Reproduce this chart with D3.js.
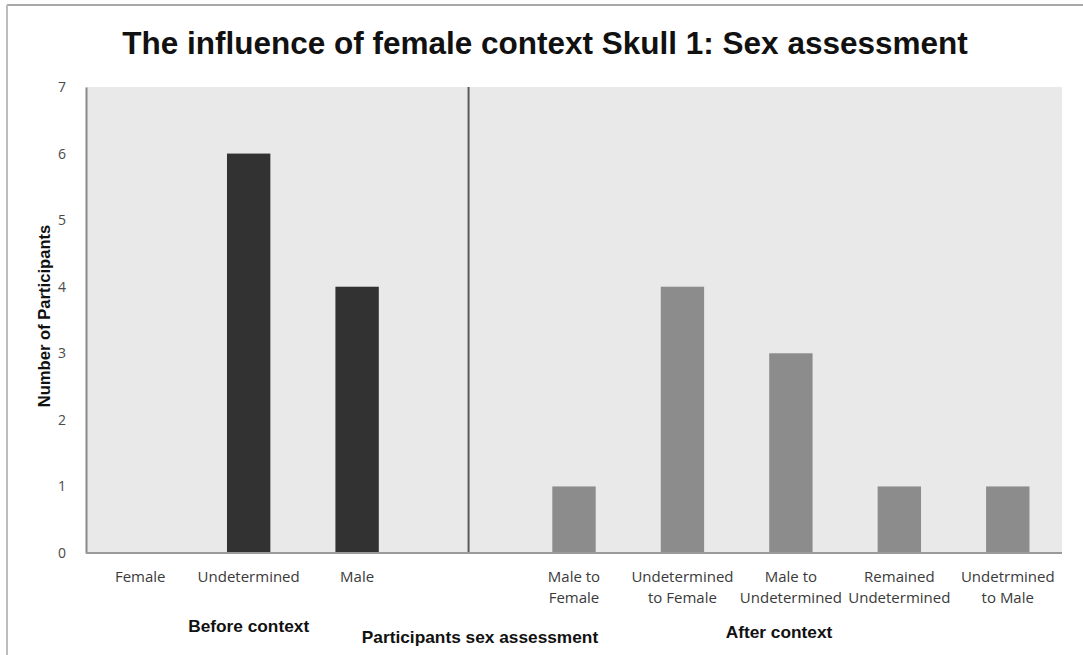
<!DOCTYPE html>
<html>
<head>
<meta charset="utf-8">
<script src="https://cdn.jsdelivr.net/npm/d3@7"></script>
<style>
  html, body { margin: 0; padding: 0; background: #ffffff; }
  svg { display: block; }
</style>
</head>
<body>
<svg id="chart" width="1083" height="655"></svg>
<script>
// Category slots along the x axis (an empty slot separates the two phases)
const categories = [
  "Female", "Undetermined", "Male", "",
  "Male to Female", "Undetermined to Female", "Male to Undetermined",
  "Remained Undetermined", "Undetrmined to Male"
];
// Two-line tick labels
const tickLines = [
  ["Female"], ["Undetermined"], ["Male"], [""],
  ["Male to", "Female"], ["Undetermined", "to Female"], ["Male to", "Undetermined"],
  ["Remained", "Undetermined"], ["Undetrmined", "to Male"]
];
// Number of participants before context
const beforeValues = [0, 6, 4, null, null, null, null, null, null];
// Number of participants after context
const afterValues = [null, null, null, null, 1, 4, 3, 1, 1];
const yTicks = [0, 1, 2, 3, 4, 5, 6, 7];
const dividerCategory = "";

const svg = d3.select("#chart");
const W = 1083, H = 655;
const plot = { left: 86, right: 1062, top: 87, bottom: 553 };

// Outer frame (top and left edges)
svg.append("line").attr("x1", 7).attr("x2", W).attr("y1", 5).attr("y2", 5)
  .attr("stroke", "#a8a8a8").attr("stroke-width", 2);
svg.append("line").attr("x1", 7).attr("x2", 7).attr("y1", 5).attr("y2", H)
  .attr("stroke", "#bdbdbd").attr("stroke-width", 2);

const x = d3.scaleBand().domain(categories.map((c, i) => i))
  .range([plot.left, plot.right]).paddingInner(0.6).paddingOuter(0.3);
const y = d3.scaleLinear().domain([0, 7]).range([plot.bottom, plot.top]);

// Plot background
svg.append("rect")
  .attr("x", plot.left).attr("y", plot.top)
  .attr("width", plot.right - plot.left).attr("height", plot.bottom - plot.top)
  .attr("fill", "#e9e9e9");

// Bars
const bars = svg.append("g");
bars.selectAll("rect.before")
  .data(beforeValues.map((v, i) => ({ v, i })).filter(d => d.v))
  .join("rect")
  .attr("class", "before")
  .attr("x", d => x(d.i)).attr("width", x.bandwidth())
  .attr("y", d => y(d.v)).attr("height", d => y(0) - y(d.v))
  .attr("fill", "#323232");
bars.selectAll("rect.after")
  .data(afterValues.map((v, i) => ({ v, i })).filter(d => d.v))
  .join("rect")
  .attr("class", "after")
  .attr("x", d => x(d.i)).attr("width", x.bandwidth())
  .attr("y", d => y(d.v)).attr("height", d => y(0) - y(d.v))
  .attr("fill", "#8c8c8c");

// Divider between before and after context
const divIdx = categories.indexOf(dividerCategory);
const divX = x(divIdx) + x.bandwidth() / 2 + 3;
svg.append("line").attr("x1", divX).attr("x2", divX)
  .attr("y1", plot.top).attr("y2", plot.bottom)
  .attr("stroke", "#5a5a5a").attr("stroke-width", 2);

// Y axis
const yAxis = svg.append("g").attr("transform", `translate(${plot.left},0)`)
  .call(d3.axisLeft(y).tickValues(yTicks).tickFormat(d3.format("d"))
    .tickSize(0).tickPadding(20));
yAxis.select(".domain").attr("stroke", "#8a8a8a").attr("stroke-width", 2);
yAxis.selectAll("text")
  .attr("font-family", "'Open Sans', sans-serif").attr("font-size", 14)
  .attr("fill", "#4a4a4a");

// X axis line
svg.append("line").attr("x1", plot.left).attr("x2", plot.right)
  .attr("y1", plot.bottom).attr("y2", plot.bottom)
  .attr("stroke", "#9a9a9a").attr("stroke-width", 2);

// X tick labels
const xl = svg.append("g");
tickLines.forEach((lines, i) => {
  const t = xl.append("text")
    .attr("x", x(i) + x.bandwidth() / 2).attr("y", 582)
    .attr("text-anchor", "middle")
    .attr("font-family", "'Open Sans', sans-serif").attr("font-size", 15)
    .attr("fill", "#3a3a3a");
  lines.forEach((ln, k) => {
    t.append("tspan").attr("x", x(i) + x.bandwidth() / 2)
      .attr("dy", k === 0 ? 0 : 21).text(ln);
  });
});

// Titles
svg.append("text").attr("x", 545).attr("y", 54)
  .attr("text-anchor", "middle")
  .attr("font-family", "'Liberation Sans', Arial, sans-serif")
  .attr("font-weight", "bold").attr("font-size", 31.5).attr("fill", "#111")
  .text("The influence of female context Skull 1: Sex assessment");

svg.append("text")
  .attr("transform", "translate(50,316) rotate(-90)")
  .attr("text-anchor", "middle")
  .attr("font-family", "'Liberation Sans', Arial, sans-serif")
  .attr("font-weight", "bold").attr("font-size", 16.6).attr("fill", "#111")
  .text("Number of Participants");

const groupLabel = (txt, cx, cy) => svg.append("text")
  .attr("x", cx).attr("y", cy).attr("text-anchor", "middle")
  .attr("font-family", "'Liberation Sans', Arial, sans-serif")
  .attr("font-weight", "bold").attr("font-size", 17.3).attr("fill", "#111")
  .text(txt);
groupLabel("Before context", x(1) + x.bandwidth() / 2, 632);
groupLabel("Participants sex assessment", 480, 643);
groupLabel("After context", 779, 638);
</script>
</body>
</html>
